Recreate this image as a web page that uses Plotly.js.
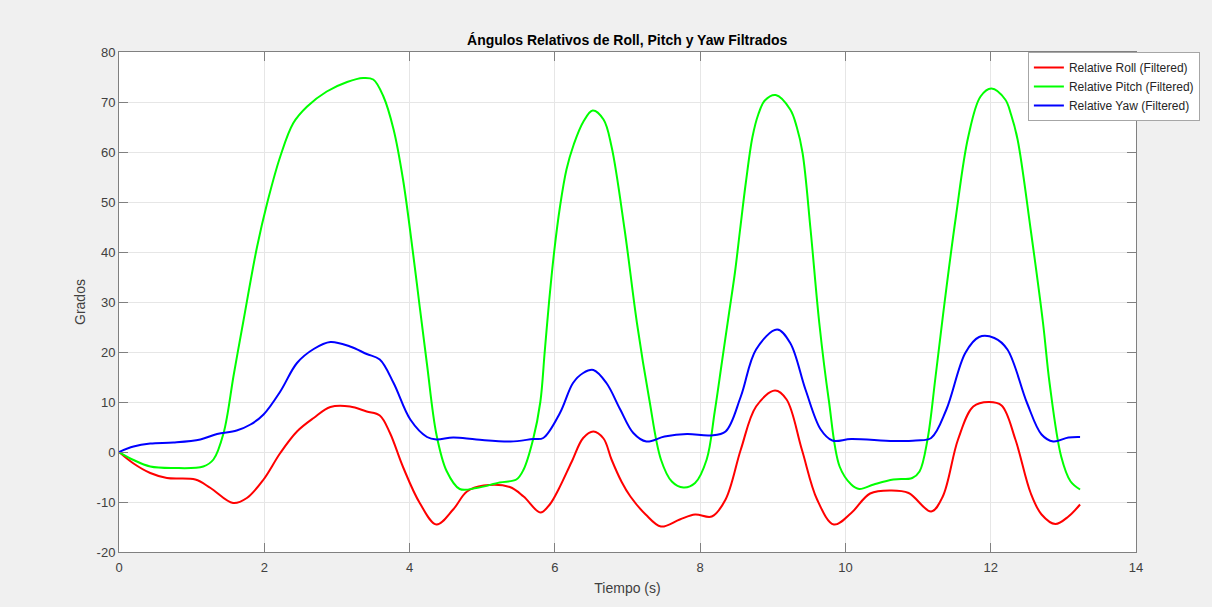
<!DOCTYPE html>
<html>
<head>
<meta charset="utf-8">
<script src="https://cdn.plot.ly/plotly-3.0.1.min.js"></script>
<style>
  html, body { margin: 0; padding: 0; background: #f0f0f0; }
  #chart { width: 1212px; height: 607px; }
</style>
</head>
<body>
<div id="chart"></div>
<script>
// Time (s) and angles (degrees)
const tRoll = [0, 0.2, 0.43, 0.66, 1.05, 1.26, 1.57, 1.76, 1.99, 2.22, 2.45, 2.68, 2.91, 3.18, 3.41, 3.59, 3.73, 3.91, 4.14, 4.37, 4.60, 4.79, 5.02, 5.38, 5.57, 5.80, 5.93, 6.05, 6.23, 6.39, 6.53, 6.67, 6.78, 6.92, 7.04, 7.25, 7.46, 7.72, 7.93, 8.16, 8.35, 8.56, 8.77, 9.03, 9.19, 9.40, 9.61, 9.84, 10.08, 10.34, 10.63, 10.87, 11.18, 11.34, 11.55, 11.76, 11.97, 12.15, 12.34, 12.55, 12.70, 12.89, 13.07, 13.23];
const roll  = [0, -2.3, -4.2, -5.2, -5.5, -7.2, -10.2, -9.2, -5.5, -0.2, 4.1, 6.8, 9.0, 9.1, 8.1, 7.3, 3.8, -3.0, -10.2, -14.5, -11.5, -7.9, -6.7, -7.0, -8.9, -12.1, -10.5, -7.5, -2.0, 2.8, 4.1, 2.7, -1.5, -6.0, -8.9, -12.5, -14.9, -13.5, -12.5, -12.9, -9.5, 0.5, 9.1, 12.3, 10.5, 0.5, -9.5, -14.5, -12.2, -8.3, -7.7, -8.2, -11.9, -8.9, 2.5, 9.1, 10.0, 9.3, 2.5, -8.2, -12.5, -14.4, -12.9, -10.5];

const tPitch = [0, 0.2, 0.43, 0.75, 1.16, 1.30, 1.44, 1.58, 1.71, 1.90, 2.04, 2.22, 2.40, 2.59, 2.86, 3.14, 3.36, 3.50, 3.64, 3.78, 3.91, 4.05, 4.14, 4.24, 4.37, 4.51, 4.69, 4.92, 5.24, 5.47, 5.57, 5.70, 5.80, 5.86, 5.92, 5.99, 6.07, 6.16, 6.26, 6.39, 6.52, 6.67, 6.78, 6.96, 7.13, 7.30, 7.46, 7.61, 7.77, 7.93, 8.09, 8.20, 8.30, 8.40, 8.48, 8.55, 8.63, 8.72, 8.80, 8.89, 9.04, 9.24, 9.33, 9.41, 9.52, 9.64, 9.77, 9.92, 10.08, 10.19, 10.39, 10.66, 10.92, 11.02, 11.13, 11.24, 11.37, 11.52, 11.69, 11.86, 12.01, 12.20, 12.28, 12.37, 12.55, 12.72, 12.81, 12.97, 13.10, 13.23];
const pitch  = [0, -1.6, -2.9, -3.2, -2.9, -1.5, 3.8, 15.5, 26.0, 41.0, 49.8, 59.1, 65.8, 69.1, 72.1, 74.0, 74.8, 74.5, 71.1, 64.5, 54.5, 39.5, 29.0, 17.5, 3.5, -3.8, -7.4, -7.2, -6.1, -5.5, -3.5, 2.5, 10.0, 20.0, 30.0, 40.0, 49.0, 56.5, 61.5, 66.0, 68.3, 66.5, 61.1, 44.5, 25.8, 10.5, -1.5, -5.9, -7.1, -6.2, -1.5, 8.0, 18.0, 28.0, 36.0, 44.5, 54.0, 63.0, 67.5, 70.3, 71.4, 68.5, 65.0, 59.8, 44.5, 25.8, 10.5, -2.9, -6.5, -7.4, -6.5, -5.5, -5.2, -3.9, 2.5, 15.0, 30.5, 47.0, 63.0, 71.1, 72.7, 70.5, 67.5, 62.5, 44.5, 25.8, 13.8, -0.9, -5.9, -7.5];

const tYaw = [0, 0.2, 0.43, 0.75, 1.12, 1.35, 1.62, 1.81, 1.99, 2.22, 2.45, 2.68, 2.91, 3.18, 3.41, 3.59, 3.78, 4.01, 4.24, 4.37, 4.60, 4.92, 5.39, 5.70, 5.84, 6.07, 6.25, 6.39, 6.53, 6.71, 6.90, 7.08, 7.26, 7.51, 7.82, 8.14, 8.35, 8.56, 8.77, 9.06, 9.24, 9.45, 9.66, 9.82, 10.08, 10.66, 10.97, 11.18, 11.39, 11.65, 11.84, 12.05, 12.23, 12.50, 12.70, 12.86, 13.07, 13.23];
const yaw  = [0, 1.1, 1.7, 1.9, 2.5, 3.6, 4.3, 5.5, 7.5, 12.1, 17.8, 20.6, 22.0, 21.1, 19.6, 18.5, 13.8, 6.5, 3.0, 2.5, 2.9, 2.5, 2.1, 2.6, 2.8, 7.8, 13.8, 15.8, 16.4, 13.8, 8.5, 3.8, 2.1, 3.1, 3.6, 3.3, 4.1, 11.1, 20.5, 24.5, 21.8, 12.5, 4.5, 2.3, 2.6, 2.2, 2.3, 2.8, 8.5, 19.8, 23.0, 22.8, 20.5, 9.8, 3.5, 2.1, 2.9, 3.0];

const seriesNames = ['Relative Roll (Filtered)', 'Relative Pitch (Filtered)', 'Relative Yaw (Filtered)'];
const xTicks = [0, 2, 4, 6, 8, 10, 12, 14];
const yTicks = [-20, -10, 0, 10, 20, 30, 40, 50, 60, 70, 80];

const font = 'Liberation Sans, Arial, Helvetica, sans-serif';
const mk = (x, y, name, color) => ({
  x: x, y: y, name: name, type: 'scatter', mode: 'lines',
  line: { color: color, width: 2, shape: 'spline', smoothing: 1.0 }
});

const data = [
  mk(tRoll, roll, seriesNames[0], '#ff0000'),
  mk(tPitch, pitch, seriesNames[1], '#00ff00'),
  mk(tYaw, yaw, seriesNames[2], '#0000ff')
];

const axisCommon = {
  showline: true, linecolor: '#808080', linewidth: 1, mirror: 'ticks',
  ticks: 'inside', ticklen: 9, tickcolor: '#808080', tickwidth: 1,
  showgrid: true, gridcolor: '#e6e6e6', gridwidth: 1, zeroline: false,
  tickfont: { family: font, size: 13, color: '#404040' }
};

const layout = {
  width: 1212, height: 607,
  paper_bgcolor: '#f0f0f0', plot_bgcolor: '#ffffff',
  margin: { l: 119, r: 76, t: 52, b: 55 },
  showlegend: true,
  title: {
    text: '<b>Ángulos Relativos de Roll, Pitch y Yaw Filtrados</b>',
    font: { family: font, size: 14, color: '#000000' },
    x: 0.5175, xanchor: 'center', y: 1 - 40 / 607, yanchor: 'middle'
  },
  xaxis: Object.assign({}, axisCommon, {
    range: [0, 14], tickvals: xTicks, ticktext: xTicks.map(String),
    ticklabelstandoff: 3,
    title: { text: 'Tiempo (s)', font: { family: font, size: 14, color: '#404040' }, standoff: 9 }
  }),
  yaxis: Object.assign({}, axisCommon, {
    range: [-20, 80], tickvals: yTicks, ticktext: yTicks.map(String),
    title: { text: 'Grados', font: { family: font, size: 14, color: '#404040' }, standoff: 7 }
  }),
  legend: {
    x: 0.8937, y: 1.0, xanchor: 'left', yanchor: 'top',
    bgcolor: '#ffffff', bordercolor: '#a6a6a6', borderwidth: 1,
    font: { family: font, size: 12, color: '#262626' },
    tracegroupgap: 0
  }
};

Plotly.newPlot('chart', data, layout, { displayModeBar: false, staticPlot: true });
</script>
</body>
</html>
